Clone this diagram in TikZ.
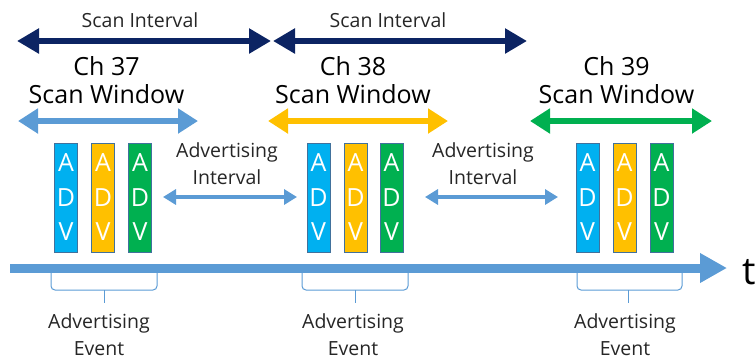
\documentclass[tikz,border=0pt]{standalone}
\usepackage{fontspec}
\setmainfont{Open Sans}
\usetikzlibrary{arrows.meta}
\definecolor{navy}{HTML}{0C2463}
\definecolor{lblue}{HTML}{5B9BD5}
\definecolor{advblue}{HTML}{00B0F0}
\definecolor{advyel}{HTML}{FFC000}
\definecolor{advgrn}{HTML}{00B050}
\definecolor{boxline}{HTML}{41719C}
\tikzset{
  smalltxt/.style={font=\fontsize{19.5}{27}\selectfont, align=center, inner sep=0, text=black!85},
  bigtxt/.style={font=\fontsize{25}{28}\selectfont, align=center, inner sep=0},
  advbox/.style={draw=boxline, line width=0.8pt, minimum width=23pt, minimum height=109pt, inner sep=0, text=white, align=center, font=\fontsize{25}{34.5}\selectfont},
  navyarrow/.style={draw=navy, line width=6pt, {Triangle[length=22pt,width=24pt]}-{Triangle[length=22pt,width=24pt]}},
  swarrow/.style={line width=6pt, {Triangle[length=20pt,width=24pt]}-{Triangle[length=20pt,width=24pt]}},
  aiarrow/.style={draw=lblue, line width=3.5pt, {Triangle[length=13pt,width=15pt]}-{Triangle[length=13pt,width=15pt]}},
  bracepath/.style={draw=lblue, line width=1pt, rounded corners=4pt},
}
\begin{document}
\begin{tikzpicture}[x=1pt,y=-1pt]
\useasboundingbox (0,0) rectangle (756,360);
% scan interval
\coordinate (si1) at (17,41);
\coordinate (si2) at (271,41);
\coordinate (si3) at (273,41);
\coordinate (si4) at (527,41);
\draw[navyarrow] (si1) -- (si2);
\draw[navyarrow] (si3) -- (si4);
\node[smalltxt] (silab1) at (140,20) {Scan Interval};
\node[smalltxt] (silab2) at (388,20) {Scan Interval};
% scan windows
\node[bigtxt] (sw37) at (106.5,80) {Ch 37\\Scan Window};
\node[bigtxt] (sw38) at (353,80) {Ch 38\\Scan Window};
\node[bigtxt] (sw39) at (616.5,80) {Ch 39\\Scan Window};
\coordinate (a37l) at (18,121); \coordinate (a37r) at (198,121);
\coordinate (a38l) at (268,121); \coordinate (a38r) at (448,121);
\coordinate (a39l) at (530,121); \coordinate (a39r) at (712,121);
\draw[swarrow, draw=lblue] (a37l) -- (a37r);
\draw[swarrow, draw=advyel] (a38l) -- (a38r);
\draw[swarrow, draw=advgrn] (a39l) -- (a39r);
% ADV boxes
\node[advbox, fill=advblue] (b11) at (66,197.5) {A\\D\\V};
\node[advbox, fill=advyel] (b12) at (103,197.5) {A\\D\\V};
\node[advbox, fill=advgrn] (b13) at (140,197.5) {A\\D\\V};
\node[advbox, fill=advblue] (b21) at (318.5,197.5) {A\\D\\V};
\node[advbox, fill=advyel] (b22) at (355.5,197.5) {A\\D\\V};
\node[advbox, fill=advgrn] (b23) at (391.5,197.5) {A\\D\\V};
\node[advbox, fill=advblue] (b31) at (587.5,197.5) {A\\D\\V};
\node[advbox, fill=advyel] (b32) at (624.5,197.5) {A\\D\\V};
\node[advbox, fill=advgrn] (b33) at (661.5,197.5) {A\\D\\V};
% advertising interval
\node[smalltxt] (ai1) at (227,164) {Advertising\\Interval};
\node[smalltxt] (ai2) at (483,164) {Advertising\\Interval};
\coordinate (ai1l) at (163,197); \coordinate (ai1r) at (297,197);
\coordinate (ai2l) at (425,197); \coordinate (ai2r) at (558,197);
\draw[aiarrow] (ai1l) -- (ai1r);
\draw[aiarrow] (ai2l) -- (ai2r);
% timeline
\coordinate (t0) at (10,268);
\coordinate (t1) at (727,268);
\draw[draw=lblue, line width=9pt, -{Triangle[length=27pt,width=28pt]}] (t0) -- (t1);
\node[font=\fontsize{38}{40}\selectfont, anchor=base west, inner sep=0] (tlab) at (742,284) {t};
% braces
\draw[bracepath] (51,273) -- (51,290) -- (157,290) -- (157,273);
\draw[bracepath] (104,290) -- (104,303);
\draw[bracepath] (302,273) -- (302,290) -- (408,290) -- (408,273);
\draw[bracepath] (355,290) -- (355,303);
\draw[bracepath] (577,273) -- (577,290) -- (682,290) -- (682,273);
\draw[bracepath] (628,290) -- (628,303);
\node[smalltxt] (ae1) at (99,335) {Advertising\\Event};
\node[smalltxt] (ae2) at (353,335) {Advertising\\Event};
\node[smalltxt] (ae3) at (625,335) {Advertising\\Event};
\end{tikzpicture}
\end{document}
